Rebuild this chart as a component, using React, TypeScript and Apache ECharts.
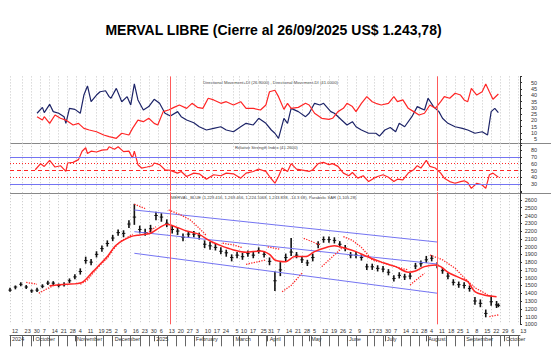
import React, { useEffect, useRef } from 'react';
import * as echarts from 'echarts';

const FONT = '"Liberation Sans", Arial, sans-serif';

const TITLE = 'MERVAL LIBRE (Cierre al 26/09/2025 US$ 1.243,78)';
const DMI_LABEL = 'Directional Movement+DI (26.9000) , Directional Movement-DI (41.0000)';
const RSI_LABEL = 'Relative Strength Index (41.2600)';
const PRICE_LABEL = 'MERVAL_BLUE (1,229.416, 1,269.466, 1,224.1068, 1,243.838, -14.3 68), Parabolic SAR (1,105.28)';

// axis calendar (weekdays)
const AXIS_FIRST_DAY = '2024-09-12';
const AXIS_LAST_DAY = '2025-10-14';

const weekTicks = ['2024-09-12','2024-09-23','2024-09-30','2024-10-07','2024-10-14','2024-10-21','2024-10-28','2024-11-04','2024-11-11','2024-11-19','2024-11-25','2024-12-02','2024-12-09','2024-12-16','2024-12-23','2024-12-30','2025-01-06','2025-01-13','2025-01-20','2025-01-27','2025-02-03','2025-02-10','2025-02-17','2025-02-24','2025-03-05','2025-03-10','2025-03-17','2025-03-25','2025-03-31','2025-04-07','2025-04-14','2025-04-21','2025-04-28','2025-05-05','2025-05-12','2025-05-19','2025-05-26','2025-06-02','2025-06-09','2025-06-17','2025-06-23','2025-06-30','2025-07-07','2025-07-14','2025-07-21','2025-07-28','2025-08-04','2025-08-11','2025-08-18','2025-08-25','2025-09-01','2025-09-08','2025-09-15','2025-09-22','2025-09-29','2025-10-06','2025-10-13'];
const monthStarts = ['2024-09-12','2024-10-01','2024-11-01','2024-12-02','2025-01-02','2025-02-03','2025-03-05','2025-04-01','2025-05-02','2025-06-02','2025-07-01','2025-08-01','2025-09-01','2025-10-01'];
const monthNames = ['2024','October','November','December','2025','February','March','April','May','June','July','August','September','October'];
const redLineDays = ['2025-01-15', '2025-08-11'];

// x = weekday index counted from 2024-09-12
const plusDI = [[15,25.7],[18,30.4],[19,26.2],[22,32.8],[24,27],[27,25.7],[30,23],[31,17.7],[33,29.6],[36,28.8],[39,25.7],[41,40.2],[43,47.4],[45,34.9],[48,40.2],[50,42.8],[53,43.6],[55,38.9],[56,37.6],[59,45.5],[62,34.9],[65,38.9],[67,32.3],[69,49],[71,36.3],[74,28.3],[77,31],[80,36.8],[83,33.6],[86,25.7],[89,23.5],[93,27],[95,23],[98,20.3],[102,18.2],[105,15],[109,12.4],[113,13.7],[117,15],[120,12.4],[124,11],[128,15],[131,17.7],[135,16.4],[138,21.7],[142,17.7],[145,12.4],[147,9.8],[149,5.8],[152,21.7],[154,17.7],[156,29.6],[160,27],[164,23],[166,25.7],[169,33.6],[172,32.3],[174,33.6],[178,27],[180,25.7],[184,20.3],[187,16.4],[190,19],[192,15],[195,12.4],[199,9.8],[203,9.8],[205,7.6],[208,12.4],[211,14.4],[214,11],[216,17.7],[219,15],[223,23],[226,31],[228,29.6],[230,28.3],[232,37.6],[235,31],[238,27],[240,21.7],[243,17.7],[247,15],[251,13.7],[254,12.4],[258,9.8],[262,11],[265,8.4],[267,27],[269,29.6],[271,26.2]];
const minusDI = [[15,23],[18,20.3],[19,23],[22,17.7],[25,24.3],[28,21.7],[31,20.3],[35,16.4],[38,17.7],[41,13.7],[44,12.4],[48,11],[52,8.4],[55,7.1],[59,5.8],[62,9.8],[66,8.4],[68,13.7],[71,20.3],[74,19],[77,21.7],[80,17.7],[82,16.4],[85,27],[88,28.3],[91,30.4],[94,32.3],[98,29.6],[101,33.6],[104,30.4],[107,29.6],[110,37.6],[113,36.3],[117,33.6],[120,34.9],[124,32.3],[128,34.9],[131,29.6],[135,29.6],[139,28.3],[142,32.3],[144,42.8],[147,44],[149,38.9],[152,28.8],[154,33.6],[156,29.6],[160,30.4],[164,33.6],[166,32.3],[169,25.7],[173,21.7],[177,20.8],[179,21.7],[182,27],[185,29.6],[187,33.6],[190,31],[192,27],[195,33.6],[198,38.9],[201,34.9],[203,33.6],[206,32.3],[210,33.6],[213,38.9],[215,34.9],[218,36.3],[221,29.6],[224,27],[227,24.3],[230,25.7],[233,32.3],[236,29.6],[239,34.9],[241,38.9],[244,37.6],[247,41.6],[250,40.2],[252,36.3],[254,34.9],[256,45.5],[259,40.2],[262,42.8],[264,49],[266,42.8],[268,36.8],[271,41]];
const rsi = [[14,51.2],[17,60.1],[19,56.1],[22,65],[25,55.2],[28,57.1],[31,48.7],[32,61.1],[35,62],[38,66],[40,78.3],[42,83.3],[43,74.9],[45,78.3],[48,77.1],[51,79.8],[54,80.7],[55,84.8],[58,81.2],[60,84.8],[63,77.7],[66,78.4],[68,68.5],[69,78.4],[71,58.6],[73,53.7],[76,55.2],[79,57.1],[80,61.1],[83,58.6],[86,51.2],[89,50.2],[93,46.3],[95,48.7],[98,41.3],[102,46.3],[105,45.3],[109,37.4],[113,43.9],[117,42.4],[120,46.3],[124,45.3],[128,38.9],[131,46.3],[135,48.7],[138,52.2],[142,48.7],[144,41.3],[147,31.5],[149,41.3],[151,53.7],[154,48.7],[156,60.1],[159,52.2],[163,50.2],[166,48.7],[168,51.2],[171,60.1],[174,62],[177,58.6],[179,60.1],[182,56.1],[185,46.3],[188,42.4],[190,47.2],[193,38.9],[196,42.4],[199,33.9],[202,38.9],[204,41.3],[207,43.9],[210,40.3],[213,33.9],[215,37.4],[218,36.4],[221,46.3],[224,51.2],[226,57.1],[228,53.7],[231,65],[233,56.1],[236,53.7],[239,46.3],[241,38.9],[244,33.9],[247,31.5],[250,33.9],[252,35],[254,32.4],[256,24],[259,31.5],[262,29],[264,24],[266,43.8],[268,46.3],[271,40.3]];
const rsiBlueLevels = [70, 30];
const rsiDottedLevels = [60, 40];
const rsiMidLevel = 50;

// [day, low, high, close]
const priceBars = [[0,1420,1470,1440],[3,1450,1500,1480],[6,1490,1540,1515],[9,1455,1505,1480],[12,1405,1450,1430],[15,1415,1470,1440],[18,1465,1515,1490],[21,1505,1560,1530],[24,1505,1555,1530],[27,1475,1525,1500],[30,1485,1540,1510],[33,1530,1590,1560],[36,1580,1645,1610],[39,1640,1720,1680],[42,1780,1870,1820],[45,1760,1840,1800],[48,1860,1940,1900],[51,1935,2015,1975],[54,2000,2080,2040],[57,2070,2150,2110],[60,2140,2220,2180],[63,2120,2210,2170],[66,2240,2340,2290],[69,2280,2550,2380],[72,2170,2270,2220],[75,2140,2230,2180],[78,2180,2280,2230],[81,2340,2450,2400],[84,2320,2430,2380],[87,2250,2350,2300],[90,2170,2270,2220],[93,2150,2250,2200],[96,2070,2170,2120],[99,2110,2200,2160],[102,2120,2200,2160],[105,2090,2180,2140],[108,1980,2080,2030],[111,1960,2060,2010],[114,1950,2040,1990],[117,1900,1990,1940],[120,1870,1960,1920],[123,1810,1900,1860],[126,1850,1930,1890],[129,1830,1920,1870],[132,1870,1950,1910],[135,1850,1930,1890],[138,1910,1990,1950],[141,1860,1940,1900],[144,1760,1860,1810],[147,1430,1680,1560],[150,1620,1800,1700],[153,1810,1910,1860],[156,1880,2110,1930],[159,1850,1930,1890],[162,1790,1870,1830],[165,1750,1830,1790],[168,1810,1910,1860],[171,1980,2070,2030],[174,2050,2130,2090],[177,2050,2130,2090],[180,2040,2120,2080],[183,1990,2070,2030],[186,1940,2020,1980],[189,1850,1930,1890],[192,1850,1930,1890],[195,1820,1900,1860],[198,1700,1780,1740],[201,1700,1780,1740],[204,1680,1760,1720],[207,1670,1750,1710],[210,1630,1710,1670],[213,1550,1630,1590],[216,1590,1670,1630],[219,1570,1650,1610],[222,1580,1660,1620],[225,1710,1790,1750],[228,1740,1820,1780],[231,1790,1880,1830],[234,1810,1890,1850],[237,1720,1800,1760],[240,1650,1730,1690],[243,1580,1660,1620],[246,1500,1580,1540],[249,1470,1550,1510],[252,1460,1540,1500],[255,1420,1500,1460],[258,1250,1350,1300],[261,1220,1320,1270],[264,1090,1190,1140],[267,1240,1370,1290],[270,1210,1300,1250],[271,1220,1270,1244]];
const movingAvg = [[22,1497],[31,1515],[40,1540],[46,1678],[54,1871],[59,2021],[67,2128],[72,2150],[78,2171],[83,2244],[87,2287],[93,2244],[98,2201],[105,2158],[111,2072],[117,2012],[124,1957],[131,1927],[139,1944],[144,1901],[147,1828],[153,1806],[158,1871],[164,1871],[169,1935],[175,1986],[180,2010],[186,1978],[192,1935],[197,1883],[203,1828],[208,1785],[214,1742],[221,1670],[225,1685],[230,1742],[236,1764],[239,1742],[243,1670],[251,1583],[254,1550],[258,1420],[263,1378],[270,1355]];
const sarSegments = [
  [[9,1540],[15,1515]],
  [[16,1399],[20,1451],[24,1497]],
  [[39,1515],[43,1570],[46,1657],[50,1764],[54,1850],[57,1957],[61,2064],[65,2115],[68,2158]],
  [[69,2545],[75,2490]],
  [[76,2170],[81,2256]],
  [[88,2471],[94,2416],[100,2343],[105,2236],[109,2141]],
  [[118,2043],[124,2021],[129,1986]],
  [[131,1772],[142,1828]],
  [[143,1995],[150,1965]],
  [[151,1420],[156,1500],[162,1657]],
  [[163,2107],[172,2021]],
  [[173,1742],[184,1978]],
  [[185,2128],[190,2080],[195,1990],[201,1828],[208,1785],[214,1740],[221,1699]],
  [[222,1506],[230,1657]],
  [[233,1892],[240,1830],[247,1721],[252,1600],[258,1470],[262,1420],[265,1380]],
  [[266,1098],[271,1120]],
];
const channelDays = [69, 237];
const channelUpper = [2471, 2059];
const channelMiddle = [2192, 1776];
const channelLower = [1914, 1400];

function weekdayCalendar(first: string, last: string): string[] {
  const out: string[] = [];
  const d = new Date(first + 'T00:00:00Z');
  const e = new Date(last + 'T00:00:00Z');
  while (d <= e) {
    const wd = d.getUTCDay();
    if (wd !== 0 && wd !== 6) out.push(d.toISOString().slice(0, 10));
    d.setUTCDate(d.getUTCDate() + 1);
  }
  return out;
}

const RED = '#ff2626';
const NAVY = '#1d2468';
const BLUE = '#7474f2';

function buildOption() {
  const days = weekdayCalendar(AXIS_FIRST_DAY, AXIS_LAST_DAY);
  const tickSet = new Set(weekTicks);
  const monthMap: Record<string, string> = {};
  monthStarts.forEach((d, i) => (monthMap[d] = monthNames[i]));
  const isTick = (_i: number, v: string) => tickSet.has(v);
  const isMonth = (_i: number, v: string) => monthMap[v] !== undefined;

  const gridX = (gi: number) => ({
    type: 'category', gridIndex: gi, data: days, boundaryGap: false,
    axisLine: { show: false }, axisTick: { show: false }, axisLabel: { show: false },
    splitLine: { show: true, interval: isTick, lineStyle: { color: '#c6c6c6', width: 1, type: [1, 2] } },
  });
  const rightY = (gi: number, min: number, max: number, interval: number, lo: number, hi: number) => ({
    type: 'value', gridIndex: gi, position: 'right', min, max, interval,
    axisLine: { show: true, lineStyle: { color: '#333', width: 1 } },
    axisTick: { show: true, length: 2, lineStyle: { color: '#333' } },
    splitLine: { show: false },
    axisLabel: {
      fontSize: 5.5, color: '#333', align: 'right', margin: 17, fontFamily: FONT,
      formatter: (v: number) => (v >= lo && v <= hi ? String(v) : ''),
    },
  });
  const vLines = () => ({
    silent: true, symbol: ['none', 'none'], label: { show: false },
    lineStyle: { color: '#ff5a5a', width: 1, type: 'solid' },
    data: redLineDays.map((d) => ({ xAxis: d })),
  });

  const sarData: any[] = [];
  sarSegments.forEach((seg) => {
    seg.forEach((p) => sarData.push(p));
    sarData.push([seg[seg.length - 1][0], '-']);
  });

  const lineBase = { type: 'line', showSymbol: false, symbol: 'none', silent: true };

  const channel = (vals: number[]) => ({
    ...lineBase, xAxisIndex: 2, yAxisIndex: 2,
    data: channelDays.map((d, i) => [d, vals[i]]),
    lineStyle: { color: BLUE, width: 1 },
  });

  const rsiLines = [
    ...rsiBlueLevels.map((v) => ({ yAxis: v, lineStyle: { color: BLUE, width: 1, type: 'solid' } })),
    ...rsiDottedLevels.map((v) => ({ yAxis: v, lineStyle: { color: RED, width: 1, type: [1, 2] } })),
    { yAxis: rsiMidLevel, lineStyle: { color: RED, width: 1, type: [4, 3] } },
    ...redLineDays.map((d) => ({ xAxis: d, lineStyle: { color: '#ff5a5a', width: 1, type: 'solid' } })),
  ];

  return {
    animation: false,
    backgroundColor: '#ffffff',
    textStyle: { fontFamily: FONT },
    grid: [
      { left: 10, right: 31, top: 76.4, height: 69.2 },
      { left: 10, right: 31, top: 143.2, height: 47.9 },
      { left: 10, right: 31, top: 192.2, height: 132.1 },
      { left: 10, right: 31, top: 324.3, height: 11 },
    ],
    xAxis: [
      gridX(0), gridX(1), gridX(2),
      {
        type: 'category', gridIndex: 3, data: days, boundaryGap: false, position: 'top',
        axisLine: { show: false },
        axisTick: { show: true, inside: true, length: 11, interval: isTick, lineStyle: { color: '#666' } },
        axisLabel: {
          show: true, inside: true, interval: isTick, margin: 4, align: 'left', padding: [0, 0, 0, 2],
          fontSize: 5.5, color: '#333', fontFamily: FONT,
          formatter: (v: string) => String(parseInt(v.slice(8), 10)),
        },
        splitLine: { show: false },
      },
      {
        type: 'category', gridIndex: 3, data: days, boundaryGap: false, position: 'bottom',
        axisLine: { show: true, lineStyle: { color: '#555', width: 1 } },
        axisTick: { show: true, length: 6, interval: isMonth, lineStyle: { color: '#555' } },
        axisLabel: {
          show: true, interval: isMonth, margin: 1, align: 'left', padding: [0, 0, 0, 2],
          fontSize: 5.5, color: '#333', fontFamily: FONT,
          formatter: (v: string) => monthMap[v] || '',
        },
        splitLine: { show: false },
      },
    ],
    yAxis: [
      rightY(0, 0, 55, 5, 5, 50),
      rightY(1, 20, 90, 10, 30, 80),
      rightY(2, 1000, 2700, 100, 1000, 2600),
      { type: 'value', gridIndex: 3, show: false },
    ],
    graphic: [
      {
        type: 'text', silent: true,
        style: { text: TITLE, x: 273.5, y: 30, textAlign: 'center', textVerticalAlign: 'middle', align: 'center', verticalAlign: 'middle', font: `bold 14px ${FONT}`, fill: '#000' },
      },
      { type: 'line', silent: true, shape: { x1: 10, y1: 143.5, x2: 551, y2: 143.5 }, style: { stroke: '#888', lineWidth: 1 } },
      { type: 'line', silent: true, shape: { x1: 10, y1: 193.5, x2: 551, y2: 193.5 }, style: { stroke: '#888', lineWidth: 1 } },
      { type: 'text', silent: true, style: { text: DMI_LABEL, x: 203, y: 82.5, textVerticalAlign: 'middle', verticalAlign: 'middle', font: `4.2px ${FONT}`, fill: '#444' } },
      { type: 'text', silent: true, style: { text: RSI_LABEL, x: 235, y: 147.5, textVerticalAlign: 'middle', verticalAlign: 'middle', font: `4.2px ${FONT}`, fill: '#444' } },
      { type: 'text', silent: true, style: { text: PRICE_LABEL, x: 171, y: 197.5, textVerticalAlign: 'middle', verticalAlign: 'middle', font: `4.2px ${FONT}`, fill: '#444' } },
    ],
    series: [
      { ...lineBase, name: '+DI', xAxisIndex: 0, yAxisIndex: 0, data: plusDI, lineStyle: { color: NAVY, width: 1.2 }, markLine: vLines() },
      { ...lineBase, name: '-DI', xAxisIndex: 0, yAxisIndex: 0, data: minusDI, lineStyle: { color: RED, width: 1.2 } },
      {
        ...lineBase, name: 'RSI', xAxisIndex: 1, yAxisIndex: 1, data: rsi, lineStyle: { color: RED, width: 1.2 },
        markLine: { silent: true, symbol: ['none', 'none'], label: { show: false }, data: rsiLines },
      },
      {
        type: 'custom', name: 'MERVAL_BLUE', xAxisIndex: 2, yAxisIndex: 2, silent: true,
        data: priceBars, encode: { x: 0, y: [1, 2, 3] },
        renderItem: (_p: any, api: any) => {
          const x = api.value(0);
          const lo = api.coord([x, api.value(1)]);
          const hi = api.coord([x, api.value(2)]);
          const cl = api.coord([x, api.value(3)]);
          return {
            type: 'group',
            children: [
              { type: 'line', shape: { x1: lo[0], y1: lo[1], x2: hi[0], y2: hi[1] }, style: { stroke: '#111', lineWidth: 1.6 } },
              { type: 'line', shape: { x1: cl[0] - 1.6, y1: cl[1], x2: cl[0] + 1.8, y2: cl[1] }, style: { stroke: '#111', lineWidth: 1 } },
            ],
          };
        },
        markLine: vLines(),
      },
      channel(channelUpper),
      channel(channelMiddle),
      channel(channelLower),
      { ...lineBase, name: 'MA', xAxisIndex: 2, yAxisIndex: 2, data: movingAvg, smooth: 0.3, lineStyle: { color: RED, width: 1.5 } },
      { ...lineBase, name: 'Parabolic SAR', xAxisIndex: 2, yAxisIndex: 2, data: sarData, connectNulls: false, lineStyle: { color: RED, width: 1.3, type: [1.3, 1.3] } },
    ],
  };
}

export default function App() {
  const ref = useRef<HTMLDivElement>(null);
  useEffect(() => {
    if (!ref.current) return;
    const chart = echarts.init(ref.current, null, { renderer: 'svg' });
    chart.setOption(buildOption() as any);
    return () => chart.dispose();
  }, []);
  return <div ref={ref} style={{ position: 'fixed', left: 0, top: 0, width: 551, height: 358, background: '#fff' }} />;
}
